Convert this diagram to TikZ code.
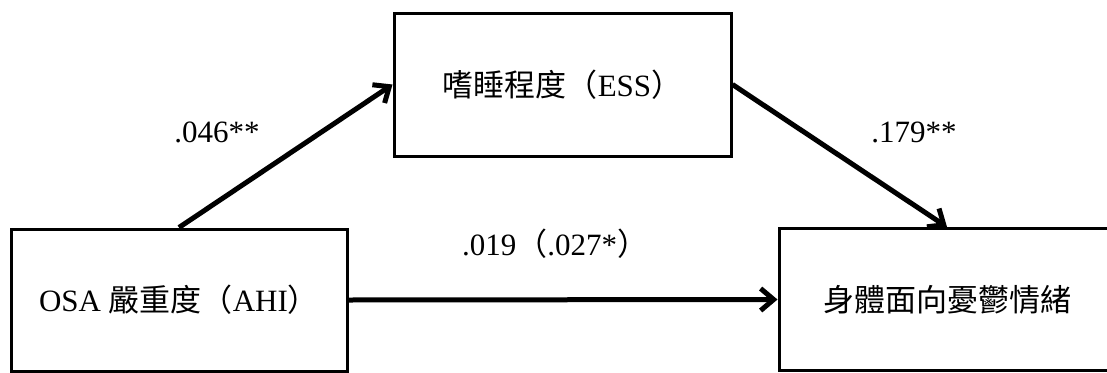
\documentclass[tikz,border=0pt]{standalone}
\usepackage{fontspec}
\setmainfont{Liberation Serif}
\newfontfamily\cjk{Noto Sans CJK TC}
\usetikzlibrary{arrows.meta}
\begin{document}
\begin{tikzpicture}[x=1pt,y=-1pt,
  varbox/.style={draw=black,line width=3pt,rectangle,minimum width=336pt,minimum height=142pt,inner sep=0pt,font=\fontsize{31}{36}\selectfont},
  pathlabel/.style={inner sep=0pt,font=\fontsize{31}{36}\selectfont},
  patharrow/.style={line width=5pt,-{Straight Barb[length=13pt,width=22pt,line width=5pt]}}]
\useasboundingbox (0,0) rectangle (1107,372);
\node[varbox] (osa) at (179,300) {OSA {\cjk 嚴重度（}AHI{\cjk ）}};
\node[varbox,minimum width=337pt,minimum height=143pt] (ess) at (562.5,84.5) {{\cjk 嗜睡程度（}ESS{\cjk ）}};
\node[varbox] (dep) at (947,299.5) {\cjk 身體面向憂鬱情緒};
\draw[patharrow] (osa.north) -- (ess.west);
\draw[patharrow] (ess.east) -- (dep.north);
\draw[patharrow] (osa.east) -- (dep.west);
\node[pathlabel,anchor=base] (a) at (217,142) {.046**};
\node[pathlabel,anchor=base] (b) at (914,142) {.179**};
\node[pathlabel,anchor=base] (c) at (555,255) {.019{\cjk （}.027*{\cjk ）}};
\end{tikzpicture}
\end{document}
